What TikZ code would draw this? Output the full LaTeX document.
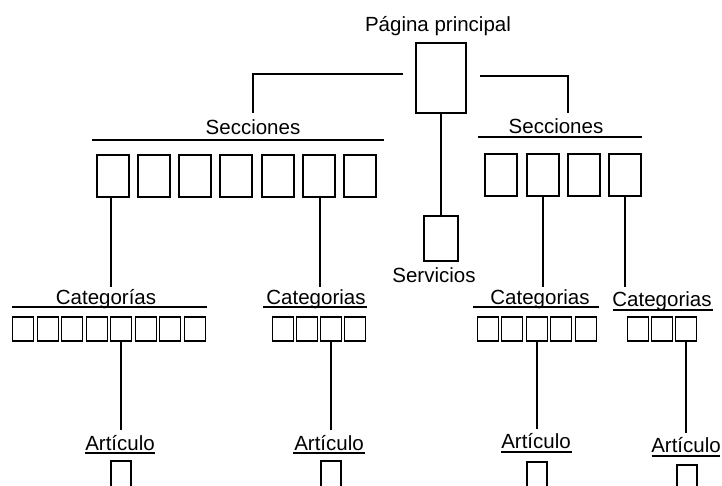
\documentclass[tikz,border=0pt]{standalone}
\usepackage{fontspec}
\setmainfont{Liberation Sans}
\begin{document}
\begin{tikzpicture}[x=1pt,y=-1pt,line width=1.8pt,
  page/.style={draw,minimum width=#1,inner sep=0pt,outer sep=0pt},
  mainbox/.style={page=50pt,minimum height=70pt},
  secbox/.style={page=32pt,minimum height=42pt},
  servbox/.style={page=34pt,minimum height=45pt},
  catbox/.style={page=21pt,minimum height=24pt},
  artbox/.style={page=20pt,minimum height=40pt},
  lbl/.style={anchor=base,inner sep=0pt,font=\fontsize{20.5}{24}\selectfont},
  rule/.style={line width=1.8pt}]
\clip (0,0) rectangle (722,486);

% home page
\node[lbl] (home) at (438,32) {Página principal};
\node[mainbox] (main) at (441,78) {};

% services
\node[servbox] (serv) at (441,238.5) {};
\node[lbl] (servlbl) at (434,282) {Servicios};
\draw (main.south) -- (serv.north);

% section labels and their rules
\node[lbl] (secL) at (253,135) {Secciones};
\node[lbl] (secR) at (556,134) {Secciones};
\draw[rule] (92,140) -- (384,140);
\draw[rule] (478,137) -- (642,137);

\coordinate (secLtop) at (253,113);
\coordinate (secRtop) at (568,113);
\draw[shorten <=13pt] ([yshift=4pt]main.west) -| (secLtop);
\draw[shorten <=14pt] ([yshift=2pt]main.east) -| (secRtop);

% section pages
\foreach \l [count=\i] in {97,138,179,220,262,303,344}
  \node[secbox] (ls\i) at (\l+16,176) {};
\foreach \l [count=\i] in {485,527,568,609}
  \node[secbox] (rs\i) at (\l+16,175) {};

% category labels and rules
\node[lbl] (catA) at (106,304) {Categorías};
\node[lbl] (catB) at (316,304) {Categorias};
\node[lbl] (catC) at (540,304) {Categorias};
\node[lbl] (catD) at (662,306) {Categorias};
\draw[rule] (12,307) -- (207,307);
\draw[rule] (263,307) -- (367,307);
\draw[rule] (473,307) -- (599,307);
\draw[rule] (613,310) -- (713,310);

\coordinate (cAtop) at (111,287);
\coordinate (cBtop) at (320,287);
\coordinate (cCtop) at (543,287);
\coordinate (cDtop) at (625,287);
\draw (ls1.south -| cAtop) -- (cAtop);
\draw (ls6.south -| cBtop) -- (cBtop);
\draw (rs2.south) -- (cCtop);
\draw (rs4.south) -- (cDtop);

% category pages
\foreach \l [count=\i] in {12,37,61,86,110,135,159,184}
  \node[catbox] (ca\i) at (\l+11,329) {};
\foreach \l [count=\i] in {272,296,320,344}
  \node[catbox] (cb\i) at (\l+11,329) {};
\foreach \l [count=\i] in {477,501,526,550,575}
  \node[catbox] (cc\i) at (\l+11,329) {};
\foreach \l [count=\i] in {627,651,675}
  \node[catbox] (cd\i) at (\l+11,329) {};

% article labels and rules
\node[lbl] (artA) at (120,450) {Artículo};
\node[lbl] (artB) at (329,450) {Artículo};
\node[lbl] (artC) at (536,448) {Artículo};
\node[lbl] (artD) at (686,452) {Artículo};
\draw[rule] (85,453) -- (155,453);
\draw[rule] (293,453) -- (365,453);
\draw[rule] (501,452) -- (572,452);
\draw[rule] (652,456) -- (720,456);

\coordinate (aAtop) at (121,430);
\coordinate (aBtop) at (331,430);
\coordinate (aCtop) at (537,429);
\coordinate (aDtop) at (686,433);
\draw (ca5.south) -- (aAtop);
\draw (cb3.south) -- (aBtop);
\draw (cc3.south) -- (aCtop);
\draw (cd3.south) -- (aDtop);

% article pages, running past the lower edge
\node[artbox] (pa) at (121,481) {};
\node[artbox] (pb) at (331,481) {};
\node[artbox] (pc) at (537,482) {};
\node[artbox] (pd) at (687,485) {};
\end{tikzpicture}
\end{document}
